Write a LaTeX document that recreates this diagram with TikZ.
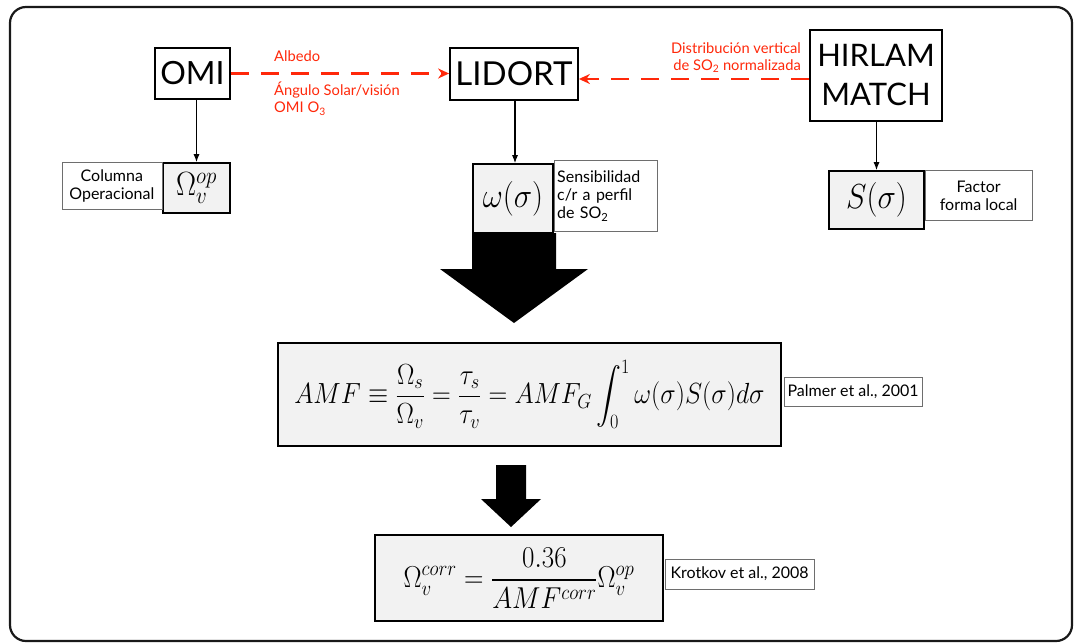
\documentclass[tikz,border=0pt]{standalone}
\usepackage{fix-cm}
\usepackage{amsmath}
\usepackage{graphicx}
\usepackage{fontspec}
\setmainfont{Lato}
\usetikzlibrary{arrows.meta,calc}
\definecolor{hl}{RGB}{255,40,10}
\definecolor{boxgray}{RGB}{242,242,242}
\definecolor{thin}{RGB}{110,110,110}
\newcommand{\vstr}[1]{\scalebox{1}[1.12]{#1}}
\tikzset{
  bigbox/.style={draw=black, line width=1.8pt, inner sep=0pt, align=center},
  mathbox/.style={draw=black, line width=1.6pt, fill=boxgray, inner sep=0pt},
  lblbox/.style={draw=thin, line width=0.7pt, fill=white, inner sep=0pt, align=center, font=\fontsize{16}{18}\selectfont},
  redarrow/.style={draw=hl, line width=2.4pt, dash pattern=on 18pt off 12pt, -{Stealth[length=11pt,width=10pt]}},
  redlbl/.style={text=hl, font=\fontsize{14.7}{17}\selectfont, inner sep=0pt},
  thinarrow/.style={draw=black, line width=1.1pt, -{Latex[length=8pt,width=6pt]}},
  blockarrow/.style={fill=black, draw=none}
}
\begin{document}
\begin{tikzpicture}[x=1pt,y=-1pt]
\useasboundingbox (0,0) rectangle (1078,643);
\draw[line width=2.2pt, draw=black!90, rounded corners=16pt] (10,7) rectangle (1072,641);

% top boxes
\node[bigbox, minimum width=75pt, minimum height=51pt, font=\fontsize{32}{36}\selectfont] (omi) at (192.5,73.5) {OMI};
\node[bigbox, minimum width=128pt, minimum height=52pt, font=\fontsize{33}{38}\selectfont] (lidort) at (514,74) {LIDORT};
\node[bigbox, minimum width=132pt, minimum height=91pt, font=\fontsize{31}{39}\selectfont] (hirlam) at (876,75.5) {HIRLAM\\MATCH};

% red dashed arrows
\draw[redarrow] (omi.east) -- (omi.east -| lidort.west);
\draw[redarrow] ([yshift=-3.5pt]hirlam.west) -- ([yshift=-3.5pt]hirlam.west -| lidort.east);

% red labels
\node[redlbl, anchor=west] (albedo) at (274,56) {Albedo};
\node[redlbl, anchor=north west, align=left] (angulo) at (274,82) {Ángulo Solar/visión\\OMI O\textsubscript{3}};
\node[redlbl, anchor=south east, align=right] (dist) at (801,73) {Distribución vertical\\de SO\textsubscript{2} normalizada};

% math boxes row
\node[mathbox, minimum width=67pt, minimum height=50pt] (omegaop) at (196.5,188) {\vstr{\fontsize{30}{32}\selectfont$\Omega_v^{op}$}};
\node[lblbox, minimum width=100pt, minimum height=47pt, anchor=north east] (colop) at (omegaop.north west) {Columna\\Operacional};

\node[mathbox, minimum width=80pt, minimum height=69pt] (omega) at (513,198.5) {\vstr{\fontsize{31}{34}\selectfont$\omega(\sigma)$}};
\node[lblbox, minimum width=103pt, minimum height=71pt, anchor=north west, align=left, text width=97pt] (sens) at (omega.east |- 0,160) {Sensibilidad\\c/r a perfil\\de SO\textsubscript{2}};

\node[mathbox, minimum width=95pt, minimum height=58pt] (s) at (876.5,200) {\vstr{\fontsize{31}{34}\selectfont$S(\sigma)$}};
\node[lblbox, minimum width=107pt, minimum height=50pt, anchor=north west] (factor) at (s.north east) {Factor\\forma local};

% thin arrows
\draw[thinarrow] (omegaop.north |- omi.south) -- (omegaop.north);
\draw[thinarrow] ([xshift=2pt]omega.north |- lidort.south) -- ([xshift=2pt]omega.north);
\draw[thinarrow] (s.north |- hirlam.south) -- (s.north);

% formula 1
\node[mathbox, minimum width=503pt, minimum height=103pt] (f1) at (529.5,394.5)
 {\vstr{\fontsize{26}{30}\selectfont$\displaystyle AMF\equiv\frac{\Omega_s}{\Omega_v}=\frac{\tau_s}{\tau_v}=AMF_G\int_0^1\omega(\sigma)S(\sigma)d\sigma$}};
\node[lblbox, minimum width=138pt, minimum height=29pt, anchor=west] (palmer) at ([xshift=2pt]f1.east |- 0,391.5) {Palmer et al., 2001};

% formula 2
\node[mathbox, minimum width=288pt, minimum height=86pt] (f2) at (519,578)
 {\vstr{\fontsize{27}{31}\selectfont$\displaystyle \Omega_v^{corr}=\frac{0.36}{AMF^{corr}}\Omega_v^{op}$}};
\node[lblbox, minimum width=149pt, minimum height=30pt, anchor=west] (krot) at ([xshift=1pt]f2.east |- 0,574) {Krotkov et al., 2008};

% block arrows
\coordinate (ba) at (514,233);
\fill[blockarrow] ($(ba)+(-42,0)$) -- ($(ba)+(42,0)$) -- ($(ba)+(42,36)$) -- ($(ba)+(74,36)$) -- ($(ba)+(0,90)$) -- ($(ba)+(-74,36)$) -- ($(ba)+(-42,36)$) -- cycle;
\coordinate (bb) at (511,465);
\fill[blockarrow] ($(bb)+(-15,0)$) -- ($(bb)+(15,0)$) -- ($(bb)+(15,34)$) -- ($(bb)+(30,34)$) -- ($(bb)+(0,62)$) -- ($(bb)+(-30,34)$) -- ($(bb)+(-15,34)$) -- cycle;
\end{tikzpicture}
\end{document}
